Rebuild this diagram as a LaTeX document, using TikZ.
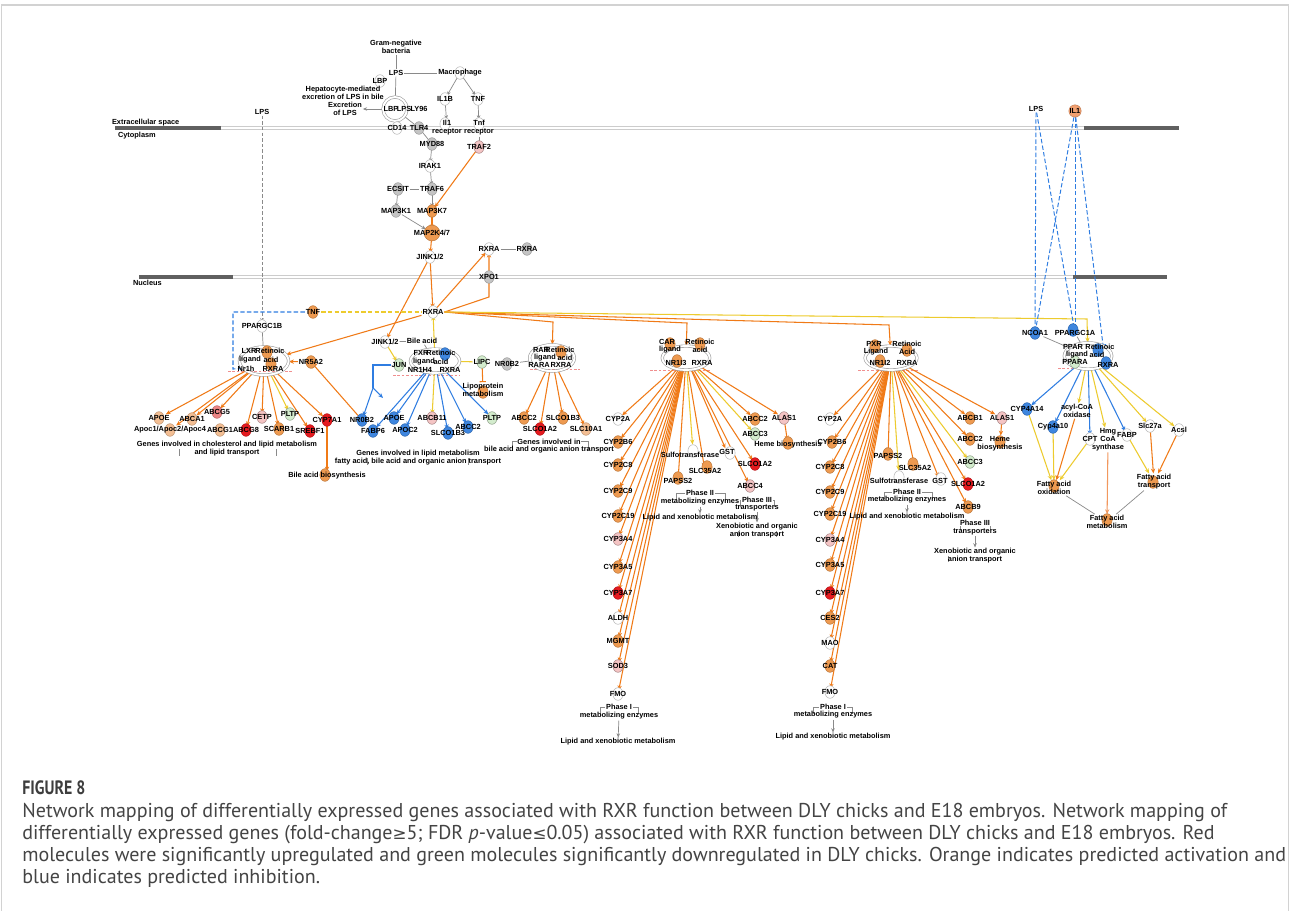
\documentclass[tikz,border=0pt]{standalone}
\usepackage{fontspec}
\setmainfont{Liberation Sans}
\newfontfamily\capfont{PT Sans}
\newfontfamily\symfont{DejaVu Sans}
\usetikzlibrary{arrows.meta,shapes.geometric}
\pgfdeclarelayer{bg}
\pgfdeclarelayer{edges}
\pgfsetlayers{bg,edges,main}
\definecolor{ORG}{HTML}{F07A17}
\definecolor{YEL}{HTML}{EDCB2E}
\definecolor{BLU}{HTML}{2F7DE1}
\definecolor{GRY}{HTML}{8A8A8A}
\definecolor{FO}{HTML}{EE9A50}
\definecolor{FLO}{HTML}{F3BE93}
\definecolor{FR}{HTML}{E51A1F}
\definecolor{FP}{HTML}{F4C4C4}
\definecolor{FSAL}{HTML}{EC8585}
\definecolor{FG}{HTML}{D3ECCD}
\definecolor{FB}{HTML}{3E86DF}
\definecolor{FGR}{HTML}{C4C4C4}
\definecolor{PNK}{HTML}{F08F8F}
\definecolor{SALM}{HTML}{F2A070}
\definecolor{CAP}{HTML}{444444}
\tikzset{
 lbl/.style={font=\bfseries\fontsize{4.2}{4.6}\selectfont, inner sep=0.4pt, align=center, text=black},
 mshp/.style={ellipse, minimum width=5.8pt, minimum height=7.2pt, inner sep=0pt, line width=0.3pt},
 fo/.style={fill=FO, draw=FO!80!black},
 flo/.style={fill=FLO, draw=FLO!80!black},
 fr/.style={fill=FR, draw=FR!80!black},
 fp/.style={fill=FP, draw=FP!70!black},
 fsal/.style={fill=FSAL, draw=FSAL!80!black},
 fg/.style={fill=FG, draw=FG!70!black},
 fb/.style={fill=FB, draw=FB!80!black},
 fgr/.style={fill=FGR, draw=FGR!80!black},
 fw/.style={fill=white, draw=gray!55},
 cplx/.style={ellipse, draw=gray!75, double=white, double distance=1.1pt, line width=0.35pt, inner sep=0pt},
 tip/.style={-{Stealth[length=2.8pt,width=2.4pt]}},
 oa/.style={draw=ORG, line width=0.6pt, tip},
 ol/.style={draw=ORG, line width=0.6pt},
 ya/.style={draw=YEL, line width=0.6pt, tip},
 yl/.style={draw=YEL, line width=0.6pt},
 ba/.style={draw=BLU, line width=0.6pt, tip},
 bl/.style={draw=BLU, line width=0.6pt},
 ga/.style={draw=GRY, line width=0.4pt, -{Stealth[length=2.4pt,width=2pt]}},
 gl/.style={draw=GRY, line width=0.4pt},
 gdash/.style={draw=GRY, line width=0.4pt, dash pattern=on 2pt off 1.2pt, -{Stealth[length=2.4pt,width=2pt]}},
 bdash/.style={draw=BLU, line width=0.6pt, dash pattern=on 2.5pt off 1.3pt},
 bdasht/.style={draw=BLU, line width=0.55pt, dash pattern=on 2.5pt off 1.3pt, -{Bar[width=3.5pt]}},
 ydash/.style={draw=YEL, line width=0.6pt, dash pattern=on 2.5pt off 1.3pt},
 dna/.style={draw=PNK, line width=0.5pt, dash pattern=on 1.5pt off 1pt},
 capt/.style={font=\capfont\fontsize{11.4}{13}\selectfont, text=CAP, anchor=base west, inner sep=0pt},
}
\newcommand{\mol}[5]{\node[mshp,#5] (#1s) at (#2,#3) {};\node[lbl] (#1) at (#2,#3) {#4};}
\newcommand{\molx}[7]{\node[mshp,#5] (#1s) at (#6,#7) {};\node[lbl] (#1) at (#2,#3) {#4};}
\newcommand{\lab}[4]{\node[lbl] (#1) at (#2,#3) {#4};}
\newcommand{\brk}[4]{\draw[gl] (#1,#4) -- (#1,#3) -- (#2,#3) -- (#2,#4);}
\begin{document}
\begin{tikzpicture}[x=0.02cm,y=-0.02cm]
\useasboundingbox (0,0) rectangle (1290,911);
\begin{pgfonlayer}{bg}
\fill[white] (0,0) rectangle (1290,911);
\draw[draw=gray!35, line width=0.6pt] (1.5,5) rectangle (1288.5,940);
% membranes
\draw[draw=gray!40, line width=0.4pt, double=white, double distance=1.6pt] (115,128) -- (1179,128);
\draw[draw=gray!75!black, line width=2.2pt] (115,128) -- (221,128);
\draw[draw=gray!75!black, line width=2.2pt] (1084,128) -- (1179,128);
\draw[draw=gray!40, line width=0.4pt, double=white, double distance=1.6pt] (139,277) -- (1167,277);
\draw[draw=gray!75!black, line width=2.2pt] (139,277) -- (233,277);
\draw[draw=gray!75!black, line width=2.2pt] (1073,277) -- (1167,277);
% DNA marks
\draw[dna] (228,371) -- (292,371);
\draw[dna] (393,375) -- (460,375);
\draw[dna] (530,369) -- (580,369);
\draw[dna] (650,370) -- (710,370);
\draw[dna] (858,370) -- (918,370);
\draw[dna] (1058,368) -- (1092,368);
\end{pgfonlayer}

\node[lbl, anchor=west] (ecs) at (111,123) {Extracellular space};
\node[lbl, anchor=west] (cyto) at (117,136) {Cytoplasm};
\node[lbl, anchor=west] (nucl) at (132,283) {Nucleus};

% ---------- top pathway
\lab{bact}{396}{47}{Gram-negative\\bacteria}
\lab{lpsT}{396}{73}{LPS}
\mol{macro}{460}{73}{Macrophage}{fw}
\mol{lbp}{380}{81}{LBP}{fw}
\lab{hep}{343}{92.5}{Hepatocyte-mediated\\excretion of LPS in bile}
\lab{excr}{345}{109}{Excretion\\of LPS}
\node[cplx, circle, minimum size=13.6pt] (topcx) at (395,109) {};
\lab{tcLBP}{391}{109}{LBP}
\lab{tcLPS}{404}{109}{LPS}
\lab{tcLY}{419}{109}{LY96}
\mol{cd14}{397}{128}{CD14}{fw}
\mol{tlr4}{419}{128}{TLR4}{fgr}
\mol{il1b}{445}{99}{IL1B}{fw}
\mol{tnft}{478}{99}{TNF}{fw}
\molx{il1r}{447}{128}{Il1\\receptor}{fw}{445}{124}
\molx{tnfr}{479}{128}{Tnf\\receptor}{fw}{479}{124}
\mol{myd88}{432}{144}{MYD88}{fgr}
\mol{traf2}{479}{147}{TRAF2}{fp}
\mol{irak1}{430}{166}{IRAK1}{fw}
\mol{ecsit}{398}{189}{ECSIT}{fgr}
\mol{traf6}{432}{189}{TRAF6}{fgr}
\mol{map3k1}{396}{211}{MAP3K1}{fgr}
\mol{map3k7}{432}{211}{MAP3K7}{fo}
\node[mshp, fo, minimum size=9pt] (map2ks) at (432,233) {};
\lab{map2k}{432}{233}{MAP2K4/7}
\mol{jink}{430}{257}{JINK1/2}{fw}
\mol{rxrat}{489}{249}{RXRA}{fw}
\mol{rxrat2}{527}{249}{RXRA}{fgr}
\mol{xpo1}{489}{277}{XPO1}{fgr}
\lab{lpsL}{262}{112}{LPS}

% ---------- nucleus: RXRA, TNF, LXR
\mol{rxran}{433}{312}{RXRA}{fw}
\mol{tnfn}{313}{312}{TNF}{fo}
\mol{ppargc1b}{262}{326}{PPARGC1B}{fw}
\node[cplx, minimum width=28pt, minimum height=16pt] (lxr) at (264,361) {};
\node[mshp, fo] (lxrs1) at (267,352) {};
\node[mshp, fo] (lxrs2) at (271,364) {};
\lab{lxrA}{249}{351}{LXR}
\lab{lxrB}{270}{351}{Retinoic}
\lab{lxrC}{250}{360}{ligand}
\lab{lxrD}{271}{360}{acid}
\lab{lxrE}{246}{369}{Nr1h}
\lab{lxrF}{273}{369}{RXRA}
\mol{nr5a2}{311}{362}{NR5A2}{fo}
\mol{nr0b2L}{362}{420}{NR0B2}{fb}
\mol{apoeL}{159}{418}{APOE}{flo}
\mol{abca1}{192}{419}{ABCA1}{flo}
\mol{abcg5}{217}{412}{ABCG5}{fsal}
\mol{apoc}{170}{430}{Apoc1/Apoc2/Apoc4}{flo}
\mol{abcg1}{220}{430}{ABCG1}{flo}
\mol{abcg8}{246}{430}{ABCG8}{fr}
\mol{cetp}{262}{417}{CETP}{fp}
\mol{pltpL}{290}{414}{PLTP}{fg}
\mol{scarb1}{279}{429}{SCARB1}{fo}
\mol{srebf1}{310}{431}{SREBF1}{fr}
\mol{cyp7a1}{327}{420}{CYP7A1}{fr}
\node[lbl, fill=white] (gL1) at (227,445) {Genes involved in cholesterol and lipid metabolism};
\lab{gL2}{227}{453}{and lipid transport}
\molx{bilebio}{327}{476}{Bile acid biosynthesis}{fo}{325}{475}

% ---------- FXR
\mol{jinkn}{385}{342}{JINK1/2}{fw}
\lab{bilea}{422}{341}{Bile acid}
\mol{jun}{399}{365}{JUN}{fg}
\node[cplx, minimum width=28pt, minimum height=13.6pt] (fxr) at (435,361) {};
\node[mshp, fb] (fxrs1) at (445,354) {};
\lab{fxrA}{421}{353}{FXR}
\lab{fxrB}{441}{353}{Retinoic}
\lab{fxrC}{424}{362}{ligand}
\lab{fxrD}{441}{362}{acid}
\lab{fxrE}{420}{370}{NR1H4}
\lab{fxrF}{450}{370}{RXRA}
\mol{lipc}{482}{362}{LIPC}{fg}
\molx{lipo}{483}{390}{Lipoprotein\\metabolism}{fo}{483}{392}
\mol{fabp6}{373}{431}{FABP6}{fb}
\mol{apoeF}{394}{418}{APOE}{fb}
\mol{apoc2}{405}{430}{APOC2}{fb}
\mol{abcb11}{432}{418}{ABCB11}{fp}
\mol{slco1b3f}{448}{433}{SLCO1B3}{fb}
\mol{abcc2f}{468}{427}{ABCC2}{fb}
\mol{pltpF}{492}{418}{PLTP}{fg}
\node[lbl, fill=white] (gF1) at (418,454) {Genes involved in lipid metabolism};
\lab{gF2}{418}{462}{fatty acid, bile acid and organic anion transport}

% ---------- RAR
\node[cplx, minimum width=25.5pt, minimum height=15pt] (rar) at (552,358) {};
\node[mshp, fo] (rars1) at (561,352) {};
\lab{rarA}{541}{350}{RAR}
\lab{rarB}{560}{350}{Retinoic}
\lab{rarC}{545}{358}{ligand}
\lab{rarD}{565}{358}{acid}
\lab{rarE}{539}{365}{RARA}
\lab{rarF}{561}{365}{RXRA}
\mol{nr0b2R}{507}{364}{NR0B2}{fgr}
\mol{abcc2r}{524}{418}{ABCC2}{fo}
\mol{slco1a2r}{540}{429}{SLCO1A2}{fr}
\mol{slco1b3r}{563}{418}{SLCO1B3}{fo}
\mol{slc10a1}{586}{429}{SLC10A1}{flo}
\node[lbl, fill=white] (gR1) at (549,442) {Genes involved in};
\lab{gR2}{549}{450}{bile acid and organic anion transport}

% ---------- CAR
\node[cplx, minimum width=27pt, minimum height=13.6pt] (car) at (686,358) {};
\node[mshp, fo] (cars1) at (670,344) {};
\node[mshp, fo] (cars2) at (700,344) {};
\node[mshp, fo] (cars3) at (677,361) {};
\lab{carA}{667}{342}{CAR}
\lab{carB}{670}{350}{ligand}
\lab{carC}{700}{342}{Retinoic}
\lab{carD}{700}{350}{acid}
\lab{carE}{676}{363}{NR1I3}
\lab{carF}{702}{363}{RXRA}
\mol{c2a}{618}{419}{CYP2A}{fw}
\mol{c2b6}{618}{442}{CYP2B6}{fo}
\mol{c2c8}{618}{465}{CYP2C8}{fo}
\mol{c2c9}{618}{491}{CYP2C9}{fo}
\mol{c2c19}{618}{516}{CYP2C19}{fo}
\mol{c3a4}{618}{539}{CYP3A4}{fp}
\mol{c3a5}{618}{567}{CYP3A5}{fo}
\mol{c3a7}{618}{593}{CYP3A7}{fr}
\mol{caldh}{618}{618}{ALDH}{fw}
\mol{cmgmt}{618}{641}{MGMT}{fo}
\mol{csod3}{618}{666}{SOD3}{fp}
\mol{cfmo}{618}{694}{FMO}{fw}
\node[lbl, fill=white] (ph1c1) at (619,707) {Phase I};
\lab{ph1c2}{619}{716}{metabolizing enzymes}
\lab{lxC1}{618}{742}{Lipid and xenobiotic metabolism}
\molx{papss2c}{678}{481}{PAPSS2}{fo}{678}{478}
\molx{sulfoc}{690}{455}{Sulfotransferase}{fw}{693}{451}
\molx{slc35a2c}{705}{471}{SLC35A2}{fo}{707}{467}
\molx{gstc}{727}{452}{GST}{fw}{730}{453}
\node[lbl, fill=white] (ph2c1) at (700,493) {Phase II};
\lab{ph2c2}{700}{502}{metabolizing enzymes}
\lab{lxC2}{700}{518}{Lipid and xenobiotic metabolism}
\mol{abcc2c}{755}{419}{ABCC2}{fo}
\mol{abcc3c}{755}{434}{ABCC3}{fg}
\mol{slco1a2c}{755}{464}{SLCO1A2}{fr}
\mol{abcc4c}{750}{486}{ABCC4}{fp}
\node[lbl, fill=white] (ph3c1) at (757,500) {Phase III};
\lab{ph3c2}{757}{508}{transporters}
\lab{xenoC}{757}{531}{Xenobiotic and organic\\anion transport}
\mol{alas1c}{784}{418}{ALAS1}{fp}
\molx{hemec}{788}{445}{Heme biosynthesis}{fo}{788}{443}

% ---------- PXR
\node[cplx, minimum width=29.5pt, minimum height=13.6pt] (pxr) at (891,358) {};
\node[mshp, fo] (pxrs1) at (875,346) {};
\node[mshp, fo] (pxrs2) at (907,350) {};
\node[mshp, fo] (pxrs3) at (880,361) {};
\lab{pxrA}{874}{344}{PXR}
\lab{pxrB}{876}{352}{Ligand}
\lab{pxrC}{907}{344}{Retinoic}
\lab{pxrD}{907}{352}{Acid}
\lab{pxrE}{880}{363}{NR1I2}
\lab{pxrF}{907}{363}{RXRA}
\mol{p2a}{830}{419}{CYP2A}{fw}
\mol{p2b6}{832}{442}{CYP2B6}{fo}
\mol{p2c8}{830}{467}{CYP2C8}{fo}
\mol{p2c9}{830}{492}{CYP2C9}{fo}
\mol{p2c19}{830}{514}{CYP2C19}{fo}
\mol{p3a4}{830}{540}{CYP3A4}{fp}
\mol{p3a5}{830}{565}{CYP3A5}{fo}
\mol{p3a7}{830}{593}{CYP3A7}{fr}
\mol{pces2}{830}{618}{CES2}{fo}
\mol{pmao}{830}{643}{MAO}{fw}
\mol{pcat}{830}{666}{CAT}{fo}
\mol{pfmo}{830}{692}{FMO}{fw}
\node[lbl, fill=white] (ph1p1) at (833,707) {Phase I};
\lab{ph1p2}{833}{715}{metabolizing enzymes}
\lab{lxP1}{833}{737}{Lipid and xenobiotic metabolism}
\molx{papss2p}{888}{456}{PAPSS2}{fo}{888}{454}
\molx{slc35a2p}{915}{468}{SLC35A2}{fo}{913}{464}
\molx{sulfop}{899}{481}{Sulfotransferase}{fw}{899}{477}
\molx{gstp}{940}{481}{GST}{fw}{941}{479}
\node[lbl, fill=white] (ph2p1) at (907,492) {Phase II};
\lab{ph2p2}{907}{500}{metabolizing enzymes}
\lab{lxP2}{907}{517}{Lipid and xenobiotic metabolism}
\mol{abcb1p}{970}{418}{ABCB1}{fo}
\mol{abcc2p}{970}{439}{ABCC2}{fo}
\mol{abcc3p}{970}{462}{ABCC3}{fg}
\mol{slco1a2p}{968}{484}{SLCO1A2}{fr}
\mol{abcb9p}{968}{507}{ABCB9}{fo}
\node[lbl, fill=white] (ph3p1) at (975,523) {Phase III};
\lab{ph3p2}{975}{532}{transporters}
\lab{xenoP}{975}{556}{Xenobiotic and organic\\anion transport}
\mol{alas1p}{1002}{418}{ALAS1}{fp}
\molx{hemep}{1000}{444}{Heme\\biosynthesis}{fo}{1000}{442}

% ---------- PPAR
\lab{lpsR}{1036}{109}{LPS}
\node[circle, fill=SALM, draw=SALM!80!black, line width=0.3pt, minimum size=7pt, inner sep=0pt] (il1Rs) at (1075,111) {};
\lab{il1R}{1075}{111}{IL1}
\mol{ncoa1}{1035}{333}{NCOA1}{fb}
\molx{ppargc1a}{1075}{333}{PPARGC1A}{fb}{1073}{330}
\node[cplx, minimum width=27pt, minimum height=15pt] (ppar) at (1088,356) {};
\node[mshp, fb] (pars1) at (1098,350) {};
\node[mshp, fb] (pars2) at (1106,363) {};
\node[mshp, fg] (pars3) at (1075,362) {};
\lab{pparA}{1073}{347}{PPAR}
\lab{pparB}{1100}{347}{Retinoic}
\lab{pparC}{1077}{355}{ligand}
\lab{pparD}{1097}{355}{acid}
\lab{pparE}{1075}{362}{PPARA}
\lab{pparF}{1108}{365}{RXRA}
\mol{cyp4a14}{1027}{409}{CYP4A14}{fb}
\lab{acyl}{1077}{411}{acyl-CoA\\oxidase}
\mol{cyp4a10}{1053}{427}{Cyp4a10}{fb}
\mol{cpt}{1090}{439}{CPT}{fw}
\lab{hmg}{1108}{440}{Hmg\\CoA\\synthase}
\mol{fabp}{1127}{435}{FABP}{fw}
\mol{slc27a}{1150}{426}{Slc27a}{fw}
\mol{acsl}{1179}{430}{Acsl}{fw}
\molx{faox}{1054}{488}{Fatty acid\\oxidation}{fo}{1054}{486}
\molx{fatr}{1154}{482}{Fatty acid\\transport}{fo}{1153}{482}
\molx{famet}{1107}{522}{Fatty acid\\metabolism}{fo}{1107}{520}

% ================= edges
\begin{pgfonlayer}{edges}
\draw[gl] (bact) -- (lpsT);
\draw[gl] (lpsT) -- (macro);
\draw[gl] (lpsT) -- (topcx);
\draw[ga] (macro) -- (il1b);
\draw[ga] (macro) -- (tnft);
\draw[ga] (il1b) -- (il1r);
\draw[ga] (tnft) -- (tnfr);
\draw[gl] (tnfr) -- (traf2);
\draw[ga] (topcx) -- (excr);
\draw[gl] (topcx) -- (cd14);
\draw[gl] (topcx) -- (tlr4);
\draw[gl] (tlr4) -- (myd88);
\draw[ga] (myd88) -- (irak1);
\draw[ga] (irak1) -- (traf6);
\draw[gl] (ecsit) -- (traf6);
\draw[ga] (ecsit) -- (map3k1);
\draw[ga] (traf6) -- (map3k7);
\draw[ga] (map3k1) -- (map2k);
\draw[oa] (traf2) -- (map3k7);
\draw[oa] (map3k7) -- (map2k);
\draw[oa] (map2k) -- (jink);
\draw[oa] (jink) -- (rxran);
\draw[oa] (jink) -- (jinkn);
\draw[oa] (rxran) -- (rxrat);
\draw[oa] (rxran.east) -- (489,297) -- (rxrat);
\draw[gl] (rxrat) -- (rxrat2);
\draw[gdash] (lpsL) -- (ppargc1b);
\draw[gl] (ppargc1b) -- (lxr);
\draw[bdash] (tnfn.west) -- (233,312) -- (233,369) -- (lxr.200);
\draw[ydash] (tnfn) -- (rxran);
% LXR
\draw[oa] (rxran) -- (lxr);
\draw[oa] (nr5a2) -- (lxr);
\draw[ol, -{Bar[width=3.5pt]}] (nr0b2L) -- (nr5a2);
\foreach \t in {apoeL,abca1,apoc,abcg5,abcg8,cetp,scarb1,srebf1,cyp7a1} \draw[oa] (lxr) -- (\t);
\draw[ya] (lxr) -- (pltpL);
\draw[oa] (cyp7a1) -- (bilebio);
\brk{179}{276}{445}{456}
% FXR
\draw[gl] (jinkn) -- (bilea);
\draw[gl] (bilea) -- (fxr);
\draw[ya] (jinkn) -- (jun);
\draw[ya] (fxr) -- (rxran);
\draw[yl] (fxr) -- (lipc);
\draw[ol, -{Bar[width=3.5pt]}] (lipc) -- (lipo);
\coordinate (fxrk) at (373,388);
\coordinate (fxrk2) at (383,398);
\draw[bl] (jun.west) -- (373,365) -- (fxrk);
\draw[ba] (fxrk) -- (nr0b2L);
\draw[ba] (fxrk) -- (fxrk2);
\foreach \t in {fabp6,apoeF,apoc2,slco1b3f,abcc2f,pltpF} \draw[ba] (fxr) -- (\t);
\draw[ya] (fxr) -- (abcb11);
\brk{367}{468}{454}{465}
% RAR
\draw[oa] (rxran.east) -- (553,322) -- (rar);
\draw[gl] (nr0b2R) -- (rar);
\foreach \t in {abcc2r,slco1a2r,slco1b3r,slc10a1} \draw[oa] (rar) -- (\t);
\brk{512}{588}{441}{450}
% CAR
\draw[oa] (rxran.east) -- (687,323) -- (car);
\foreach \t in {c2a,c2b6,c2c8,c2c9,c2c19,c3a4,c3a5,c3a7,caldh,cmgmt,csod3,cfmo,papss2c,slc35a2c,gstc,abcc2c,slco1a2c,abcc4c,alas1c} \draw[oa] (car) -- (\t);
\draw[ya] (car) -- (sulfocs);
\draw[ya] (car) -- (abcc3c);
\draw[oa] (alas1c) -- (hemec);
\brk{600}{638}{707}{714}
\draw[ga] (ph1c2) -- (lxC1);
\brk{676}{725}{493}{500}
\draw[ga] (ph2c2) -- (lxC2);
\brk{740}{774}{500}{507}
\draw[ga] (ph3c2) -- (xenoC);
\draw[gl] (738,531) -- (738,537);
\draw[gl] (776,531) -- (776,537);
% PXR
\draw[oa] (rxran.east) -- (889,325) -- (pxr);
\foreach \t in {p2a,p2b6,p2c8,p2c9,p2c19,p3a4,p3a5,p3a7,pces2,pmao,pcat,pfmo,papss2p,slc35a2p,gstp,abcb1p,abcc2p,slco1a2p,abcb9p,alas1p} \draw[oa] (pxr) -- (\t);
\draw[ya] (pxr) -- (sulfops);
\draw[ya] (pxr) -- (abcc3p);
\draw[oa] (alas1p) -- (hemep);
\brk{813}{852}{707}{714}
\draw[ga] (ph1p2) -- (lxP1);
\brk{884}{932}{492}{499}
\draw[ga] (ph2p2) -- (lxP2);
\brk{960}{990}{523}{530}
\draw[ga] (ph3p2) -- (xenoP);
\draw[gl] (948,556) -- (948,562);
% PPAR
\draw[ya] (rxran.east) -- (1087,319) -- (ppar);
\draw[bdasht] (lpsR) -- (ncoa1);
\draw[bdasht] (lpsR) -- (ppargc1a);
\draw[bdasht] (il1Rs) -- (ncoa1);
\draw[bdasht] (il1Rs) -- (ppargc1a);
\draw[bdasht] (il1Rs) -- (ppar.35);
\draw[gl] (ncoa1) -- (ppar);
\draw[gl] (ppargc1a) -- (ppar);
\foreach \t in {cyp4a14,cyp4a10,cpt,fabp} \draw[ba] (ppar) -- (\t);
\foreach \t in {acyl,hmg,slc27a,acsl} \draw[ya] (ppar) -- (\t);
\draw[ya] (cyp4a14) -- (faox);
\draw[ya] (cyp4a10) -- (faox);
\draw[oa] (acyl) -- (faox);
\draw[ya] (cpt) -- (faox);
\draw[draw=SALM!80!ORG, line width=0.6pt, tip] (hmg) -- (famet);
\draw[ya] (fabp) -- (fatr);
\draw[oa] (slc27a) -- (fatr);
\draw[oa] (acsl) -- (fatr);
\draw[gl] (faox) -- (famet);
\draw[gl] (fatr) -- (famet);
\end{pgfonlayer}

% ================= caption
\node[font=\capfont\bfseries\fontsize{11}{12}\selectfont, text=CAP!90!black, anchor=base west, inner sep=0pt] (figt) at (22,794) {\scalebox{0.82}[1]{FIGURE 8}};
\node[capt] (cap1) at (22,817) {Network mapping of differentially expressed genes associated with RXR function between DLY chicks and E18 embryos. Network mapping of};
\node[capt] (cap2) at (22,839) {differentially expressed genes (fold-change{\symfont\fontsize{9.5}{12}\selectfont ≥}5; FDR {\itshape p}-value{\symfont\fontsize{9.5}{12}\selectfont ≤}0.05) associated with RXR function between DLY chicks and E18 embryos. Red};
\node[capt] (cap3) at (22,861) {molecules were significantly upregulated and green molecules significantly downregulated in DLY chicks. Orange indicates predicted activation and};
\node[capt] (cap4) at (22,883) {blue indicates predicted inhibition.};
\end{tikzpicture}
\end{document}
